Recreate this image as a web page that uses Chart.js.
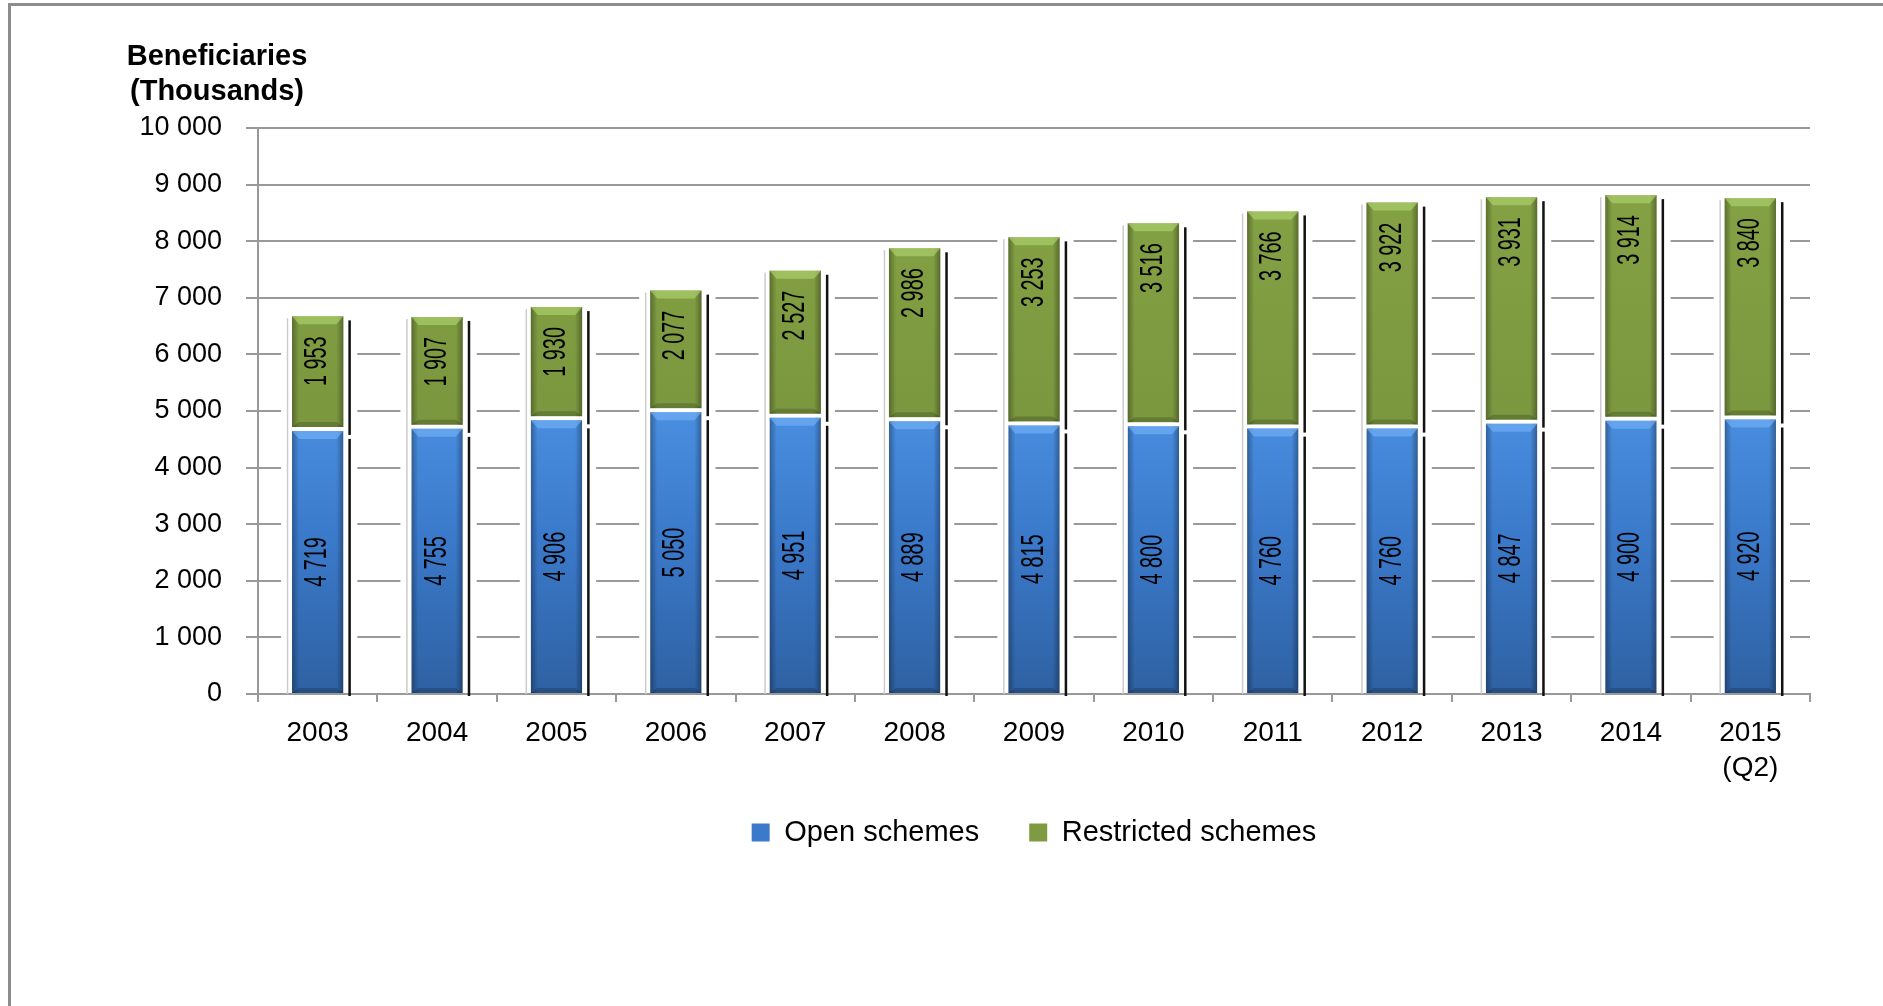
<!DOCTYPE html>
<html>
<head>
<meta charset="utf-8">
<script src="https://cdn.jsdelivr.net/npm/chart.js@4.4.1/dist/chart.umd.min.js"></script>
<style>
html, body { margin: 0; padding: 0; background: #fff; overflow: hidden; }
#wrap { position: relative; width: 1883px; height: 1006px; }
#frame { position: absolute; left: 8px; top: 3px; right: 0; bottom: -10px;
         border-left: 3px solid #8c8c8c; border-top: 3px solid #8c8c8c; pointer-events: none; }
</style>
</head>
<body>
<div id="wrap">
  <canvas id="chart" width="1883" height="1006"></canvas>
  <div id="frame"></div>
</div>
<script>
// data (thousands of beneficiaries)
var years = ['2003', '2004', '2005', '2006', '2007', '2008', '2009', '2010',
             '2011', '2012', '2013', '2014', ['2015', '(Q2)']];
var openSchemes = [4719, 4755, 4906, 5050, 4951, 4889, 4815, 4800, 4760, 4760, 4847, 4900, 4920];
var restrictedSchemes = [1953, 1907, 1930, 2077, 2527, 2986, 3253, 3516, 3766, 3922, 3931, 3914, 3840];
var seriesNames = ['Open schemes', 'Restricted schemes'];
var yMax = 10000;
var yStep = 1000;

var FONT = "'Liberation Sans', Arial, sans-serif";
var GRID = '#999999';

// 4719 -> "4 719"
function fmt(v) {
    return String(v).replace(/\B(?=(\d{3})+(?!\d))/g, ' ');
}

function blueFill(context) {
    var chart = context.chart;
    if (!chart.chartArea) return '#3a7bc8';
    var top = chart.scales.y.getPixelForValue(5100);
    var g = chart.ctx.createLinearGradient(0, top, 0, chart.chartArea.bottom);
    g.addColorStop(0, '#4a8fe0');
    g.addColorStop(0.45, '#3b7acb');
    g.addColorStop(1, '#2e61a2');
    return g;
}

function greenFill(context) {
    var chart = context.chart;
    if (!chart.chartArea) return '#7f9b42';
    var g = chart.ctx.createLinearGradient(0, chart.chartArea.top, 0, chart.scales.y.getPixelForValue(4700));
    g.addColorStop(0, '#86a445');
    g.addColorStop(1, '#7b973f');
    return g;
}

// glossy edges on a bar segment
function bevel(c, el, top, light) {
    var l = el.x - el.width / 2, r = el.x + el.width / 2, bot = el.base;
    var h = bot - top;
    var g = c.createLinearGradient(l, 0, l + 7, 0);
    g.addColorStop(0, 'rgba(0,0,0,0.30)');
    g.addColorStop(1, 'rgba(0,0,0,0)');
    c.fillStyle = g;
    c.fillRect(l, top, 7, h);
    g = c.createLinearGradient(r, 0, r - 7, 0);
    g.addColorStop(0, 'rgba(0,0,0,0.32)');
    g.addColorStop(1, 'rgba(0,0,0,0)');
    c.fillStyle = g;
    c.fillRect(r - 7, top, 7, h);
    c.fillStyle = light;
    c.beginPath();
    c.moveTo(l, top); c.lineTo(r, top); c.lineTo(r - 7, top + 8); c.lineTo(l + 7, top + 8);
    c.closePath(); c.fill();
    c.fillStyle = 'rgba(0,0,0,0.18)';
    c.beginPath();
    c.moveTo(l, bot); c.lineTo(r, bot); c.lineTo(r - 7, bot - 5); c.lineTo(l + 7, bot - 5);
    c.closePath(); c.fill();
}

// rotated, condensed value label
function vText(c, txt, x, y, align) {
    c.save();
    c.translate(x, y);
    c.rotate(-Math.PI / 2);
    c.scale(0.64, 1);
    c.textAlign = align;
    c.textBaseline = 'middle';
    c.fillText(txt, 0, 0);
    c.restore();
}

var barDecor = {
    id: 'barDecor',
    beforeDatasetsDraw: function(chart) {
        var c = chart.ctx, area = chart.chartArea;
        var low = chart.getDatasetMeta(0).data, high = chart.getDatasetMeta(1).data;
        c.save();
        for (var i = 0; i < low.length; i++) {
            var b = low[i], t = high[i];
            var left = b.x - b.width / 2;
            // white halo that cuts the grid lines round each column
            c.fillStyle = '#fff';
            c.fillRect(left - 11, t.y - 3, b.width + 25, area.bottom - 1 - (t.y - 3));
            c.strokeStyle = '#cccccc';
            c.lineWidth = 1.5;
            c.beginPath();
            c.moveTo(left - 4.5, t.y + 2);
            c.lineTo(left - 4.5, area.bottom);
            c.stroke();
        }
        c.restore();
    },
    afterDatasetsDraw: function(chart) {
        var c = chart.ctx, area = chart.chartArea;
        var low = chart.getDatasetMeta(0).data, high = chart.getDatasetMeta(1).data;
        c.save();
        for (var i = 0; i < low.length; i++) {
            var b = low[i], t = high[i];
            var right = b.x + b.width / 2;
            bevel(c, b, b.y + 4, 'rgba(120,180,250,0.6)');
            bevel(c, t, t.y, 'rgba(175,210,110,0.65)');
            // dark shadow strip to the right
            c.fillStyle = '#111';
            c.fillRect(right + 5, t.y + 4, 2.5, t.base - t.y + 4);
            c.fillRect(right + 5, b.y + 12, 2.5, area.bottom - b.y - 10);
            c.fillStyle = '#000';
            c.font = '31px ' + FONT;
            vText(c, fmt(openSchemes[i]), b.x, (b.y + 4 + b.base) / 2, 'center');
            vText(c, fmt(restrictedSchemes[i]), t.x, t.y + 20, 'right');
        }
        c.restore();
    }
};

var axisTitle = {
    id: 'axisTitle',
    afterDraw: function(chart) {
        var c = chart.ctx, x = chart.chartArea.left - 41;
        c.save();
        c.fillStyle = '#000';
        c.font = 'bold 29px ' + FONT;
        c.textAlign = 'center';
        c.textBaseline = 'alphabetic';
        c.fillText('Beneficiaries', x, 65);
        c.fillText('(Thousands)', x, 100);
        c.restore();
    }
};

// pull the legend row up a little, closer to the year labels
var legendNudge = {
    id: 'legendNudge',
    afterLayout: function(chart) {
        chart.legend.top -= 26;
        chart.legend.bottom -= 26;
    }
};

var chart = new Chart(document.getElementById('chart'), {
    type: 'bar',
    data: {
        labels: years,
        datasets: [
            {
                label: seriesNames[0],
                data: openSchemes,
                backgroundColor: blueFill,
                borderColor: '#ffffff',
                borderWidth: { top: 4, left: 0, right: 0, bottom: 0 },
                legendColor: '#3b7acb'
            },
            {
                label: seriesNames[1],
                data: restrictedSchemes,
                backgroundColor: greenFill,
                borderWidth: 0,
                legendColor: '#7f9b42'
            }
        ]
    },
    options: {
        responsive: false,
        animation: false,
        devicePixelRatio: 1,
        barPercentage: 0.43,
        categoryPercentage: 1,
        layout: { padding: { left: 0, right: 73, top: 128, bottom: 123 } },
        plugins: {
            tooltip: { enabled: false },
            legend: {
                position: 'bottom',
                fullSize: false,
                labels: {
                    color: '#000',
                    font: { family: FONT, size: 29 },
                    boxWidth: 18,
                    boxHeight: 18,
                    padding: 50,
                    generateLabels: function(ch) {
                        return ch.data.datasets.map(function(ds, i) {
                            return {
                                text: ds.label,
                                fillStyle: ds.legendColor,
                                strokeStyle: ds.legendColor,
                                lineWidth: 0,
                                datasetIndex: i
                            };
                        });
                    }
                }
            }
        },
        scales: {
            x: {
                stacked: true,
                afterFit: function(scale) { scale.height = 100; },
                grid: {
                    display: true,
                    drawOnChartArea: false,
                    drawTicks: true,
                    tickLength: 8,
                    color: GRID,
                    lineWidth: 2
                },
                border: { color: GRID, width: 2 },
                ticks: {
                    color: '#000',
                    padding: 14,
                    maxRotation: 0,
                    autoSkip: false,
                    font: { family: FONT, size: 28, lineHeight: 1.25 }
                }
            },
            y: {
                stacked: true,
                min: 0,
                max: yMax,
                afterFit: function(scale) { scale.width = 258; },
                grid: { color: GRID, lineWidth: 2, tickLength: 12 },
                border: { color: GRID, width: 2 },
                ticks: {
                    stepSize: yStep,
                    color: '#000',
                    padding: 24,
                    font: { family: FONT, size: 27 },
                    callback: function(v) { return fmt(v); }
                }
            }
        }
    },
    plugins: [barDecor, axisTitle, legendNudge]
});
</script>
</body>
</html>
